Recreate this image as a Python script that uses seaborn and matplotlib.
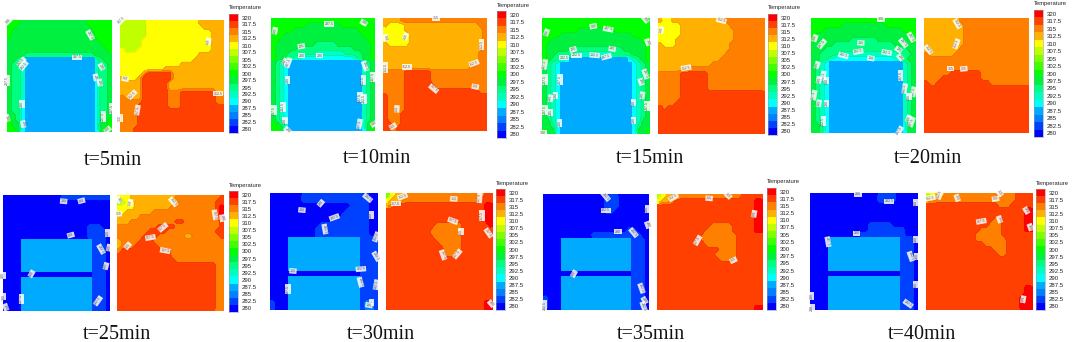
import numpy as np
import matplotlib
matplotlib.use('Agg')
import matplotlib.pyplot as plt
from matplotlib.colors import ListedColormap
import seaborn as sns

# one character per cell, 0-9 a-g = band index on the colour bar (280 .. 320 K)
T5_AIR = ["888777777777777777888888", "887777777777777777788888", "877777777777777777778888", "877777777777777777778888",
          "777777777777777777777888", "777777777777777777777788", "777777777777777777777778", "777766666666666666667777",
          "776533333333333333335677", "766533333333333333335667", "766533333333333333335667", "766533333333333333335667",
          "766533333333333333334667", "766533333333333333334667", "766533333333333333334667", "766533333333333333334667",
          "766533333333333333334667", "766433333333333333334667", "766433333333333333334667", "766433333333333333334667",
          "776433333333333333334677", "876433333333333333334678", "877433333333333333334778", "887433333333333333334788"]
T5_BOX = ["bbbbbbccccccccccccdddddd", "bbbbbbcccccccccccccddddd", "bbbbbbcccccccccccccccddd", "bbbbbbcccccccccccccccddd",
          "bbbbbccccccccccccccccddd", "bbbbbccccccccccccccccddd", "cbbbcccccccccccccccccddd", "ccccccccccccccccccdddddd",
          "cccccccccccccccccddddddd", "ccccccccccccccdddddddddd", "ccccccccccdddddddddddddd", "cccccdffffffdddddddddddd",
          "dcccdfffffffdddddddddddd", "dddddffffffddddddddddddd", "dddddffffffddddddddddddd", "dddddffffffeeeffffffffdd",
          "eddddffffffeeeffffffffee", "eeeeeffffffeeeffffffffee", "eeeefffffffeeeffffffffff", "eeeeffffffffffffffffffff",
          "eeeeffffffffffffffffffff", "eeeeffffffffffffffffffff", "eeeeffffffffffffffffffff", "eeefffffffffffffffffffff"]
T10_AIR = ["888888888888888888888888", "888888887777777788888888", "888887777777777777778888", "888777777777777777777888",
           "887777777777777777777788", "877777777766666777777778", "877777666666666666677778", "877766666655555556666778",
           "877665544444444444456778", "765433333333333333333567", "765433333333333333333567", "765433333333333333333567",
           "765433333333333333333567", "765433333333333333333567", "765433333333333333333567", "765433333333333333333567",
           "765433333333333333333567", "765433333333333333333567", "765433333333333333333567", "765433333333333333333567",
           "765433333333333333333567", "765433333333333333333567", "876533333333333333333578", "887433333333333333333478"]
T10_BOX = ["ddddeeeeeeeeeeeeeeeeeeee", "dccccdddddddddddddddddee", "cccccddddddddddddddddddе".replace("е", "e"), "ccccccddddddddddddddddde",
           "ccccccddddddddddddddddde", "dcccccddddddddddddddddde", "ddddddddddddddddddddddde", "ddddddddddddddddddddddee",
           "ddddddddddddddddddddddee", "ddddddddddddddddddddddee", "ddddddddddddddddddddeeee", "eeeeeffffffeeeeeeeeeeeee",
           "eeeeeffffffeeeeeeeeeeeee", "eeeeeffffffeeeeeeeeeeeee", "eeeeefffffffeeeeeeeeeeee", "eeeeefffffffffffffffffee",
           "feeeefffffffffffffffffff", "feeeefffffffffffffffffff", "feeeefffffffffffffffffff", "feeeefffffffffffffffffff",
           "feeeffffffffffffffffffff", "feeeffffffffffffffffffff", "ffeeffffffffffffffffffff", "ffefffffffffffffffffffff"]
T15_AIR = ["888888888888888888888888", "888888888888888888888888", "888888887777777788888888", "888877777777777777778888",
           "887777777777777777777788", "877777777777777777777778", "877777666666666666777778", "877666655555555566667778",
           "876654333333333333345678", "765433333333333333334567", "765433333333333333334567", "765433333333333333334567",
           "765433333333333333334567", "765433333333333333334567", "765433333333333333334567", "765433333333333333334567",
           "765433333333333333334567", "765433333333333333334567", "765433333333333333334567", "765433333333333333334567",
           "765433333333333333334567", "775433333333333333334577", "776433333333333333334677", "877433333333333333334778"]
T15_BOX = ["dccddddddddddddeeeeeeeee", "cccccdddddddddddeeeeeeee", "cccccddddddddddddeeeeeee", "cccccddddddddddddeeeeeee",
           "ccccdddddddddddddeeeeeee", "dcccddddddddddddeeeeeeee", "ddddddddddddddddeeeeeeee", "dddddddddddddddeeeeeeeee",
           "ddddddddddddddeeeeeeeeee", "ddddddddddddeeeeeeeeeeee", "dddddddeeeeeeeeeeeeeeeee", "eeeeeffffffeeeeeeeeeeeee",
           "eeeeeffffffeeeeeeeeeeeee", "eeeeeffffffeeeeeeeeeeeee", "eeeeeffffffeeeeeeeeeeeee", "eeeeefffffffffffffffffffe",
           "eeeeefffffffffffffffffff", "eeeeffffffffffffffffffff", "fefffffffffffffffffffff", "ffffffffffffffffffffffff",
           "ffffffffffffffffffffffff", "ffffffffffffffffffffffff", "ffffffffffffffffffffffff", "ffffffffffffffffffffffff"]
T20_AIR = ["888888888888888888888888", "888888877777777778888888", "888777777777777777777888", "877777777777777777777778",
           "877777777666666777777778", "777776666666666666677777", "777666666666666666666677", "776666555555555555556667",
           "776654444444444444456677", "765433333333333333333567", "765433333333333333333567", "765433333333333333333567",
           "765433333333333333333567", "765433333333333333333567", "765433333333333333333567", "765433333333333333333567",
           "765433333333333333333567", "765433333333333333333567", "765433333333333333333567", "765433333333333333333567",
           "765433333333333333333567", "765433333333333333333567", "776433333333333333333477", "776433333333333333333477"]
T20_BOX = ["ddddddddeeeeeeeeeeeeeeee", "dddddddddeeeeeeeeeeeeeee", "dddddddddeeeeeeeeeeeeeee", "dddddddddeeeeeeeeeeeeeee",
           "dddddddddeeeeeeeeeeeeeee", "dddddddddeeeeeeeeeeeeeee", "ddddddddeeeeeeeeeeeeeeee", "eddddddeeeeeeeeeeeeeeeee",
           "eeeeeeeeeeeeeeeeeeeeeeee", "eeeeeeeeeeeeeeeeeeeeeeee", "eeeeeeeeeeeeeeeeeeeeeeee", "eeeeeefffffffeeeeeeeeeee",
           "eeeefffffffffeeeeeeeeeee", "feeffffffffffffeeeeeeeee", "ffffffffffffffffffffffff", "ffffffffffffffffffffffff",
           "ffffffffffffffffffffffff", "ffffffffffffffffffffffff", "ffffffffffffffffffffffff", "ffffffffffffffffffffffff",
           "ffffffffffffffffffffffff", "ffffffffffffffffffffffff", "ffffffffffffffffffffffff", "ffffffffffffffffffffffff"]
T25_AIR = ["000000000000011111111111", "000000000000000000000000", "000000000000000000000000", "000000000000000000000000",
           "000000000000000000000000", "000000000000000000000000", "000000000000000000011100", "000000000000000000011110",
           "000000000000000000011110", "000033333333333333331110", "000033333333333333331110", "000033333333333333331110",
           "000033333333333333331110", "000033333333333333331110", "000033333333333333331110", "000033333333333333331110",
           "000000000000000000001110", "000033333333333333331110", "000033333333333333331110", "000033333333333333331110",
           "000033333333333333331110", "000033333333333333331110", "000033333333333333331110", "000033333333333333331110"]
T25_BOX = ["cccddddddddddeeeeeeeeeef", "abccddddddddddeeeeeeeeff", "ccccddddddddeeeeeeeeeefg", "ccddddddeeeeeeeeeeeeeefg",
           "dddddeeeeeeeeeeeeeeeeefg", "dddeeeeeeeeeeffeeeeeeeef", "eeeeeeeeeffffeeeeeeeeeef", "eeeeeeeffffeeeeeeeeeeeff",
           "eeeeeefffeeeeeeddeeeeeef", "deeeefffeeeeeeeeeeeeeeee", "deeefffffeeeeeeeeeeeeeee", "efffffffffffeeeeeeeeeeee",
           "ffffffffffffeeeeeeeeeeee", "fffffffffffffeeeeeeeeeee", "ffffffffffffffffffffffee", "ffffffffffffffffffffffee",
           "ffffffffffffffffffffffee", "ffffffffffffffffffffffee", "ffffffffffffffffffffffee", "ffffffffffffffffffffffee",
           "ffffffffffffffffffffffee", "ffffffffffffffffffffffee", "ffffffffffffffffffffffee", "ffffffffffffffffffffffee"]
T30_AIR = ["000000011111111111111100", "000000011111111111111100", "000000000000000000111100", "000000000000000001111100",
           "000000000000000011111100", "000000000000001111111100", "000000000001111111111100", "000000000011111111111100",
           "000000000011111111111100", "000033333333333333331111", "000033333333333333331111", "000033333333333333331111",
           "000033333333333333331111", "000033333333333333331111", "000033333333333333331111", "000033333333333333331111",
           "000000000000000000001111", "000033333333333333331111", "000033333333333333331111", "000033333333333333331111",
           "000033333333333333331111", "000033333333333333331111", "100033333333333333331221", "100033333333333333331221"]
T30_BOX = ["acddeeeeeeeeeeeeeeeeeeff", "cdddeeeeeeeeeeeeeeeeefff", "deffffffffffffffffffffgg", "ffffffffffffffffffffffgg",
           "ffffffffffffffffffffffgg", "ffffffffffffffffffffffgg", "fffffffffffeeeeeeffffffg", "ffffffffffeeeeeeefffffff",
           "ffffffffffeeeeeeefffffff", "fffffffffffeeeeeefffffff", "ffffffffffffeeeeefffffff", "fffffffffffffeeeefffffff",
           "fffffffffffffeeeffffffff", "ffffffffffffffffffffffff", "ffffffffffffffffffffffff", "ffffffffffffffffffffffff",
           "ffffffffffffffffffffffff", "ffffffffffffffffffffffff", "ffffffffffffffffffffffff", "ffffffffffffffffffffffff",
           "ffffffffffffffffffffffff", "ffffffffffffffffffffffff", "ffffffffffffffffffffffgg", "ffffffffffffffffffffffgg"]
T35_AIR = ["000000000000001110000000", "000000000000001110000000", "000000000000001110000000", "000000000000001100000000",
           "000000000000000000000000", "000000000000000000000000", "000000000000000000000000", "000000000000000000011000",
           "000000000001111111111100", "000033333333333333331110", "000033333333333333331110", "000033333333333333331110",
           "000033333333333333331110", "000033333333333333331110", "000033333333333333331110", "000033333333333333331110",
           "000000000000000000001110", "000033333333333333331110", "000033333333333333331110", "000033333333333333331110",
           "000033333333333333331110", "100033333333333333331110", "100033333333333333331110", "100033333333333333331110"]
T35_BOX = ["bcdddeeeeeeeeeeeeeefffff", "cddeffffffffffffffffffgg", "ffffffffffffffffffffffgg", "ffffffffffffffffffffffgg",
           "ffffffffffffffffffffffgg", "ffffffffffffffffffffffgg", "ffffffffffffeeeeefffffgg", "fffffffffffeeeeeefffffgg",
           "ffffffffffeeeeeeeeffffff", "ffffffffffeeeeeeeeffffff", "fffffffffffeeeeeeeffffff", "ffffffffffffffeeeeffffff",
           "fffffffffffffeeeeeffffff", "ffffffffffffffeeeeffffff", "ffffffffffffffffffffffff", "ffffffffffffffffffffffff",
           "ffffffffffffffffffffffff", "ffffffffffffffffffffffff", "ffffffffffffffffffffffff", "ffffffffffffffffffffffff",
           "ffffffffffffffffffffffff", "ffffffffffffffffffffffff", "ffffffffffffffffffffffff", "ffffffffffffffffffffffgg"]
T40_AIR = ["000000000000000111100000", "000000000000000111100000", "000000000000000000000000", "000000000000000000000000",
           "000000000000000000000000", "000000000000000000000000", "000000000000011111000000", "000000000000011111111000",
           "000000000001111111111000", "000033333333333333331110", "000033333333333333331110", "000033333333333333331110",
           "000033333333333333331110", "000033333333333333331110", "000033333333333333331110", "000033333333333333331110",
           "000000000000000000001110", "000033333333333333331110", "000033333333333333331110", "000033333333333333331110",
           "000033333333333333331110", "000033333333333333331110", "000033333333333333331110", "000033333333333333331110"]
T40_BOX = ["bcddeeeeeeeeeeeeeeeeffff", "ddeeeeeeeeeeeeeeeeeeffff", "ffffffffffffffffeeefffff", "ffffffffffffffffffffffgg",
           "ffffffffffffffffffffffgg", "fffffffffffffffeefffffgg", "ffffffffffffffeeefffffgg", "ffffffffffffeeeeefffffgg",
           "fffffffffffeeeeeefffffff", "fffffffffffeeeeeeeffffff", "fffffffffffffeeeeeffffff", "fffffffffffffffeeeffffff",
           "ffffffffffffffffeeffffff", "ffffffffffffffffffffffff", "ffffffffffffffffffffffff", "ffffffffffffffffffffffff",
           "ffffffffffffffffffffffff", "ffffffffffffffffffffffff", "ffffffffffffffffffffffff", "ffffffffffffffffffffffgg",
           "ffffffffffffffffffffffgg", "fffffffffffffffffffffggg", "fffffffffffffffffffffggg", "fffffffffffffffffffffggg"]

# contour label spots: column, row, rotation
LABELS_T5_AIR = [(.3, .2, 45), (19, 3.2, -60), (3.3, 9, 50), (3.8, 9.8, 50), (16, 8, 0), (21.6, 10, -60), (0, 13, 90), (20.3, 12.3, -80), (21.2, 13.4, -80), (3.4, 18, 90), (3.7, 22.3, -80), (22, 20.7, 90), (24, 19, 90), (23, 23.5, 40), (0, 21, -70)]
LABELS_T5_BOX = [(.4, 0, 45), (20.4, 4.6, 80), (1.2, 12.6, -10), (2.8, 16, 45), (4, 19.3, 80), (0, 21, 90), (22.6, 15.8, 0)]
LABELS_T10_AIR = [(.9, 2.7, 80), (13.4, 1.3, 0), (21.4, 1, -30), (7, 6, 10), (7, 8, 0), (11.2, 8, 0), (3.2, 9.3, 60), (4, 9.5, 70), (21.7, 10.2, -70), (23.4, 12.5, 90), (21.3, 13.2, 90), (3.8, 13.2, 90), (20.5, 16.8, 90), (21.5, 17.2, 90), (2.8, 18.9, 90), (.7, 19.6, 90), (20.4, 22.5, 80), (3.2, 21.8, 90), (23.8, 22.5, 30), (3.8, 23.8, -45)]
LABELS_T10_BOX = [(12.2, .1, 0), (.6, 4.2, -80), (5.2, 3.9, 70), (22.8, 5.6, 90), (21, 9.6, 20), (.6, 10.5, 90), (5.5, 10.4, 0), (11.7, 15, -40), (21.3, 14.6, -10), (3.2, 19.3, 85), (2.3, 23, 30)]
LABELS_T15_AIR = [(23, .3, -50), (1, 3, 70), (11.4, 1.7, 10), (14.7, 2.3, -10), (23.5, 5, -70), (6.9, 6.5, 15), (15.6, 6.4, -10), (7.7, 7.7, 0), (11.7, 7.7, -5), (14.3, 8, 15), (4.9, 8.2, 0), (.6, 9.6, 80), (.7, 12.7, 90), (4, 12.7, 90), (23, 11.6, -70), (22, 13.2, -70), (22.3, 16, 80), (1.9, 16.6, 80), (3, 16, 90), (20.4, 17.5, 90), (.7, 19, 90), (1.9, 19.5, 90), (23.3, 18.2, 90), (3.9, 21.7, 90), (20.4, 21.2, 90), (.2, 23.8, 0)]
LABELS_T15_BOX = [(.7, 2.5, 80), (14.2, .5, -15), (6.3, 10.3, 10)]
LABELS_T20_AIR = [(16, .2, 0), (.9, 4.2, 70), (2.5, 5.4, 50), (22.9, 4, -60), (21.1, 5.2, -50), (11.4, 5.2, -5), (20, 6.6, -35), (10.8, 7, 10), (17.3, 7.2, -10), (7.4, 7.8, -15), (13.7, 8.4, -10), (20.4, 8.2, -50), (1.4, 9.8, 70), (2.8, 12.1, 80), (3.6, 13.1, 90), (20.5, 12, 90), (1.8, 12.9, 80), (21.4, 14.7, 80), (23.4, 15.4, 80), (22.4, 16.4, 90), (.7, 16.1, 80), (1.8, 17.8, 80), (3.6, 17.8, 90), (22.3, 21, 70), (23, 21.7, 70), (2.8, 21.5, 90), (20.2, 23.6, 60)]
LABELS_T20_BOX = [(7.6, 1.2, -60), (7.4, 5.4, 70), (1, 6.6, -50), (6.1, 10.6, 0), (9.1, 10.6, 5)]
LABELS_T25_AIR = [(13.6, 1.3, -5), (17.6, 1.2, 15), (15.2, 8.3, 15), (23.5, 7.9, 90), (22, 11.2, -60), (23.8, 10.9, 80), (23.1, 14.7, 75), (6.4, 16.3, 60), (0, 16.6, 90), (.1, 21, 90), (4.1, 21.5, 90), (21.3, 21.9, 55), (.6, 23.2, -70)]
LABELS_T25_BOX = [(.4, 1, -60), (3, 1.6, 80), (.3, 3.9, 5), (12.6, 1.4, -50), (22, 4.1, -80), (23.6, 4.8, -80), (10.3, 6.7, 40), (7.5, 8.8, 10), (2.4, 10.5, 50), (10.8, 11.5, -10)]
LABELS_T30_AIR = [(21.7, 1, -40), (11.3, 2.1, 50), (7.1, 3.5, -5), (14.3, 5, 20), (22.5, 4.5, 90), (12.2, 7.4, -80), (23.6, 9, 70), (23.6, 13, -60), (5.1, 16, -5), (20.2, 15.6, 5), (20.1, 18.3, -75), (23.6, 18.8, 80), (4, 19.7, 90), (22.6, 22.5, 90), (22, 23, -10)]
LABELS_T30_BOX = [(2.2, 2.2, 0), (3.7, .7, 20), (15.2, 1.2, -5), (21, 1, 85), (21.5, 4.6, 90), (23, 8.2, -55), (15, 5.7, -20), (16.8, 7.9, 90), (12.8, 12.7, -70), (16, 12.5, 50), (23.6, 22.7, -50)]
LABELS_T35_AIR = [(14.2, .5, -50), (14.2, 3.4, 0), (23.6, 3.1, 90), (23.7, 6.4, -70), (17, 7.8, 0), (20.5, 8, -50), (7, 16.5, 60), (22.3, 19.5, -70), (23, 22, -60), (22.8, 23.3, -70), (.4, 23, 90)]
LABELS_T35_BOX = [(3.7, .7, 30), (11.8, .9, -5), (16.1, .3, -45), (22, 4.1, 80), (9.2, 9.6, 60), (17.3, 13.7, 25)]
LABELS_T40_AIR = [(10.7, .2, 0), (17.6, 1.7, 0), (23.5, 2, 90), (10.3, 8.3, 0), (4, 10, -80), (23.5, 9.5, 90), (22.4, 13, -70), (23.8, 13, 90), (23.5, 18.8, 90), (21.8, 22.7, -35), (.4, 21.1, 90), (.5, 23.5, 90)]
LABELS_T40_BOX = [(1, 1, 10), (3.1, .3, 70), (7, 1, -70), (15.6, 1.2, 10), (16.5, 0, -50), (12.4, 5.8, 10), (16.5, 5.4, -70), (22.5, 3.6, -60), (23.4, 7, -70), (21.8, 21.8, 80)]

CAPTIONS = ['t=5min', 't=10min', 't=15min', 't=20min', 't=25min', 't=30min', 't=35min', 't=40min']
AIR_GRIDS = [T5_AIR, T10_AIR, T15_AIR, T20_AIR, T25_AIR, T30_AIR, T35_AIR, T40_AIR]
BOX_GRIDS = [T5_BOX, T10_BOX, T15_BOX, T20_BOX, T25_BOX, T30_BOX, T35_BOX, T40_BOX]
AIR_LABELS = [LABELS_T5_AIR, LABELS_T10_AIR, LABELS_T15_AIR, LABELS_T20_AIR, LABELS_T25_AIR, LABELS_T30_AIR, LABELS_T35_AIR, LABELS_T40_AIR]
BOX_LABELS = [LABELS_T5_BOX, LABELS_T10_BOX, LABELS_T15_BOX, LABELS_T20_BOX, LABELS_T25_BOX, LABELS_T30_BOX, LABELS_T35_BOX, LABELS_T40_BOX]

TEMPS = [280, 282.5, 285, 287.5, 290, 292.5, 295, 297.5, 300, 302.5, 305, 307.5, 310, 312.5, 315, 317.5, 320]
TEMP_LABELS = ['280', '282.5', '285', '287.5', '290', '292.5', '295', '297.5', '300', '302.5', '305', '307.5', '310', '312.5', '315', '317.5', '320']
BAND_COLOURS = ['#0000ff', '#0040ff', '#0080ff', '#00aaff', '#00ffff', '#00ffbf', '#00ff80', '#00f040', '#00ff00',
                '#40ff00', '#80ff00', '#bfff00', '#ffff00', '#ffb000', '#ff8000', '#ff4000', '#ff0000']

# pixel boxes of the picture: air x0, x1, box x0, x1, y0, y1, bar x0, bar y0, bar y1, caption x, caption baseline
LAYOUT = [(7, 112, 120, 224, 20, 132, 229, 14, 133, 113, 165), (271, 375, 383, 487, 18, 131, 497, 11, 138, 377, 163),
          (542, 650, 658, 765, 18, 134, 768, 14, 135, 650, 163), (811, 916, 924, 1029, 18, 133, 1034, 10, 137, 928, 163),
          (3, 110, 117, 224, 195, 311, 229, 191, 312, 117, 339), (270, 378, 386, 493, 193, 310, 496, 189, 310, 381, 339),
          (543, 649, 657, 763, 194, 310, 767, 188, 310, 651, 339), (810, 918, 926, 1033, 193, 310, 1036, 189, 310, 922, 339)]

W, H = 1072, 342
BLOCK_TEMP = 287.5
cmap = ListedColormap(BAND_COLOURS)
vmin, vmax = TEMPS[0] - 1.25, TEMPS[-1] + 1.25
contour_levels = np.arange(vmin, vmax + 1, 2.5)
digits = '0123456789abcdefg'


def to_temp(rows):
    """문자 격자를 온도 배열로"""
    rows = [r.ljust(24, r[-1])[:24] for r in rows]
    return np.array([[TEMPS[digits.index(c)] for c in r] for r in rows])


def add_axes(fig, x0, x1, y0, y1):
    return fig.add_axes([x0 / W, 1 - y1 / H, (x1 - x0) / W, (y1 - y0) / H])


def draw_field(ax, rows, labels, keep_block=False):
    grid = to_temp(rows)
    sns.heatmap(grid, ax=ax, cmap=cmap, vmin=vmin, vmax=vmax, cbar=False, xticklabels=False, yticklabels=False)
    xs = np.arange(grid.shape[1]) + .5
    ys = np.arange(grid.shape[0]) + .5
    # 블록은 격자 그대로 두고 나머지만 등고선으로 부드럽게
    smooth = np.ma.masked_equal(grid, BLOCK_TEMP) if keep_block else grid
    ax.contourf(xs, ys, smooth, levels=contour_levels, cmap=cmap, vmin=vmin, vmax=vmax)
    ax.contour(xs, ys, smooth, levels=contour_levels, colors='#303030', linewidths=.2, alpha=.25)
    for col, row, rot in labels:
        c = min(int(col), 23)
        r = min(int(row), 23)
        ax.text(col, row, f'{grid[r, c]:g}', fontsize=2.6, color='#555555', rotation=rot, ha='center', va='center',
                rotation_mode='anchor', clip_on=False,
                bbox=dict(facecolor='white', edgecolor='none', pad=.5, alpha=.85))


def draw_bar(fig, x0, y0, y1):
    ax = add_axes(fig, x0, x0 + 9, y0, y1)
    bar = np.array(TEMPS[::-1]).reshape(-1, 1)
    sns.heatmap(bar, ax=ax, cmap=cmap, vmin=vmin, vmax=vmax, cbar=False, xticklabels=False, yticklabels=TEMP_LABELS[::-1])
    ax.yaxis.tick_right()
    ax.tick_params(axis='y', length=0, pad=2.5, labelsize=4.3, labelrotation=0, colors='#222222')
    for s in ax.spines.values():
        s.set_visible(True)
        s.set_linewidth(.4)
        s.set_color('#999999')
    fig.text(x0 / W, 1 - (y0 - 6) / H, 'Temperature', fontsize=4.2, color='#222222', ha='left', va='center')


def main():
    sns.set_theme(style='white')
    plt.rcParams['font.family'] = ['Liberation Sans', 'DejaVu Sans']
    fig = plt.figure(figsize=(W / 100, H / 100), dpi=100)
    for i, box in enumerate(LAYOUT):
        ax0, ax1, bx0, bx1, y0, y1, cx, cy0, cy1, tx, ty = box
        draw_field(add_axes(fig, ax0, ax1, y0, y1), AIR_GRIDS[i], AIR_LABELS[i], keep_block=True)
        draw_field(add_axes(fig, bx0, bx1, y0, y1), BOX_GRIDS[i], BOX_LABELS[i])
        draw_bar(fig, cx, cy0, cy1)
        fig.text(tx / W, 1 - ty / H, CAPTIONS[i], fontsize=14.5, family=['Liberation Serif'], color='#111111', ha='center', va='baseline')
    fig.savefig('out.png', dpi=100)
    plt.close(fig)


if __name__ == "__main__":
    main()
